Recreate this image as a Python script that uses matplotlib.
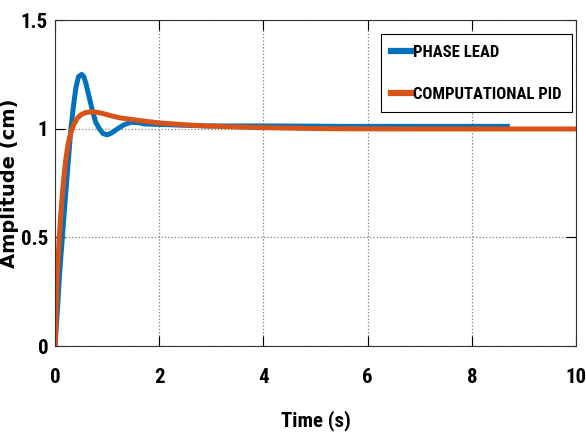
import numpy as np
import matplotlib.pyplot as plt

# step responses
t_lead = [0, 0.04, 0.08, 0.11, 0.14, 0.19, 0.24, 0.27, 0.30, 0.35, 0.40, 0.45, 0.51,
          0.55, 0.59, 0.65, 0.72, 0.78, 0.85, 0.92, 1.0, 1.08, 1.2, 1.32, 1.46, 1.6,
          1.71, 2.0, 2.5, 2.9, 3.5, 4.0, 5.0, 5.5, 6.5, 7.5, 8.68]
a_lead = [0, 0.15, 0.31, 0.41, 0.50, 0.66, 0.81, 0.90, 0.99, 1.10, 1.19, 1.24, 1.25,
          1.24, 1.21, 1.15, 1.08, 1.03, 1.00, 0.978, 0.972, 0.980, 1.00, 1.018, 1.03, 1.028,
          1.022, 1.02, 1.016, 1.013, 1.013, 1.013, 1.012, 1.011, 1.011, 1.011, 1.011]

t_pid = [0, 0.015, 0.03, 0.05, 0.08, 0.11, 0.14, 0.17, 0.20, 0.25, 0.30, 0.36, 0.43,
         0.50, 0.58, 0.69, 0.80, 0.92, 1.07, 1.25, 1.4, 1.71, 2.0, 2.5, 2.9, 3.5, 4.0,
         5.0, 5.5, 7.0, 8.5, 10.0]
a_pid = [0, 0.12, 0.24, 0.37, 0.50, 0.61, 0.70, 0.78, 0.85, 0.93, 0.98, 1.02, 1.05,
         1.065, 1.074, 1.078, 1.076, 1.07, 1.06, 1.05, 1.045, 1.035, 1.027, 1.018, 1.013,
         1.008, 1.005, 1.001, 1.0, 0.999, 0.999, 0.999]

labels = ['PHASE LEAD', 'COMPUTATIONAL PID']
colors = ['#0072BD', '#D95319']

xticks = [0, 2, 4, 6, 8, 10]
yticks = [0, 0.5, 1, 1.5]
ytick_labels = ['0', '0.5', '1', '1.5']

narrow = ['Liberation Sans Narrow', 'Roboto Condensed', 'Archivo Narrow', 'DejaVu Sans']

fig = plt.figure(figsize=(5.86, 4.36), dpi=100)
ax = fig.add_axes([0.094, 0.206, 0.889, 0.748])

ax.plot(t_lead, a_lead, color=colors[0], lw=3.6, label=labels[0])
ax.plot(t_pid, a_pid, color=colors[1], lw=3.6, label=labels[1])

ax.set_xlim(0, 10)
ax.set_ylim(0, 1.5)
ax.set_xticks(xticks)
ax.set_yticks(yticks)
ax.set_xticklabels([str(v) for v in xticks], family=narrow, fontsize=15, fontweight='bold')
ax.set_yticklabels(ytick_labels, family=narrow, fontsize=15, fontweight='bold')
ax.tick_params(axis='both', direction='in', length=7, width=0.8, top=True, right=True)
ax.tick_params(axis='x', pad=16)
ax.tick_params(axis='y', pad=5)

ax.grid(True, linestyle=':', color='#808080', linewidth=0.9)
for s in ax.spines.values():
    s.set_linewidth(0.8)
    s.set_color('#333333')

ax.set_xlabel('Time (s)', family=narrow, fontsize=15, fontweight='bold')
ax.xaxis.set_label_coords(0.5, -0.198)
ax.set_ylabel('Amplitude (cm)', family='DejaVu Sans', fontsize=14, fontweight='bold')
ax.yaxis.set_label_coords(-0.07, 0.5)

leg = ax.legend(loc='upper right', bbox_to_anchor=(0.993, 0.957),
                prop={'family': narrow, 'size': 12, 'weight': 'bold'},
                handlelength=1.3, handletextpad=0.0, borderaxespad=0.0,
                fancybox=False, edgecolor='black', framealpha=1, borderpad=0.65,
                labelspacing=1.6)
leg.get_frame().set_linewidth(0.8)
for line in leg.get_lines():
    line.set_linewidth(4.5)

fig.savefig('out.png', dpi=100)
